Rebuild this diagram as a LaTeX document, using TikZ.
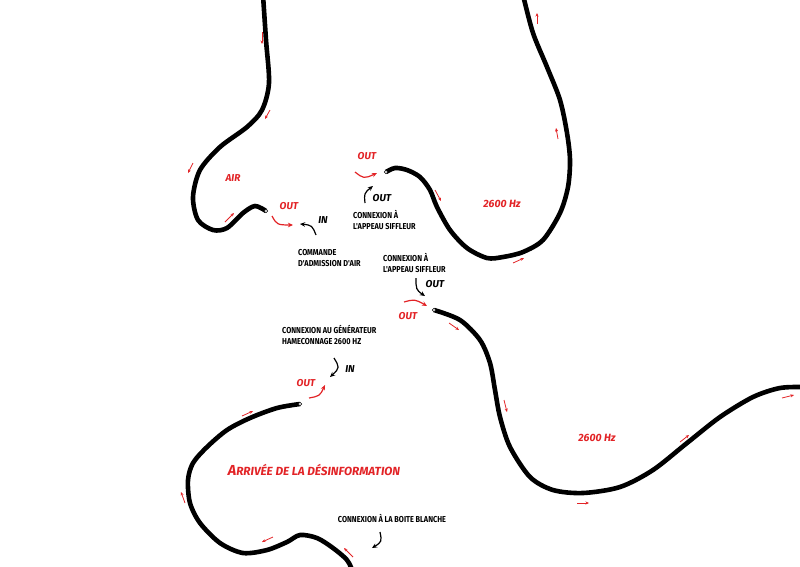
\documentclass[tikz,border=0pt]{standalone}
\usepackage{fontspec}
\setmainfont{Fira Sans}
\newfontfamily\plume[FakeStretch=0.85]{Fira Sans}
\usepackage{tikz}
\usetikzlibrary{arrows.meta,bending}
\usepackage{xcolor}
\definecolor{Alerte}{RGB}{226,35,38}

\begin{document}
\begin{tikzpicture}[x=1pt,y=-1pt,
  tuyau/.style={line width=4.6pt,line cap=butt},
  bouche/.style={fill=white,line width=0.6pt},
  fleche/.style={Alerte,line width=0.8pt,-{Stealth[length=3.5pt,width=3pt]}},
  courbe/.style={line width=1.2pt,-{Stealth[length=5pt,width=4.5pt,bend]}},
  etiquette/.style={font=\plume\bfseries\fontsize{8.6}{10.5}\selectfont,align=left,inner sep=0pt},
  rouge/.style={Alerte,font=\bfseries\itshape\fontsize{10}{11}\selectfont,inner sep=0pt}]
\useasboundingbox (0,0) rectangle (800,566);
%
% tuyau d'air
\draw[tuyau] plot[smooth] coordinates {(266,211) (255,206) (243,213) (227,228) (213,230) (198,220) (193,197) (200,170) (220,147) (247,127) (262,110) (269,83) (266,40) (263,-5)};
\draw[bouche] (266,211) circle (1.8);
\draw[fleche] (262,32) -- (262,44);
\draw[fleche] (270,110) -- (265,119);
\draw[fleche] (193,163) -- (188,173);
\draw[fleche] (225,222) -- (234,213);
\draw (233,178) node[rouge] (air) {AIR};
%
% tuyau 2600 Hz du haut
\draw[tuyau] plot[smooth] coordinates {(386,172) (395,168) (407,170) (420,177) (430,190) (437,207) (450,230) (467,248) (487,258) (503,257) (523,252) (543,240) (560,213) (568,187) (570,160) (567,133) (560,100) (547,67) (533,33) (523,-5)};
\draw[bouche] (386,172) circle (1.8);
\draw[fleche] (537,24) -- (537,13);
\draw[fleche] (558,139) -- (556,128);
\draw[fleche] (435,190) -- (441,201);
\draw[fleche] (513,263) -- (524,258);
\draw (502,204) node[rouge,font=\bfseries\itshape\fontsize{10.5}{11}\selectfont] (hzhaut) {2600 Hz};
%
% tuyau 2600 Hz du bas
\draw[tuyau] plot[smooth] coordinates {(434,310) (460,320) (480,340) (490,363) (495,390) (500,417) (510,447) (530,477) (553,490) (583,493) (620,487) (653,470) (687,443) (720,417) (753,397) (780,388) (805,387)};
\draw[bouche] (434,310) circle (1.8);
\draw[fleche] (449,323) -- (459,330);
\draw[fleche] (504,400) -- (507,412);
\draw[fleche] (577,503) -- (589,503);
\draw[fleche] (680,442) -- (689,435);
\draw[fleche] (782,398) -- (794,395);
\draw (597,438) node[rouge,font=\bfseries\itshape\fontsize{10.5}{11}\selectfont] (hzbas) {2600 Hz};
%
% tuyau de la desinformation
\draw[tuyau] plot[smooth] coordinates {(300,404) (277,408) (250,418) (227,430) (207,447) (193,463) (188,480) (190,503) (200,523) (220,543) (243,553) (267,550) (287,542) (300,535) (317,538) (333,548) (347,560) (353,572)};
\draw[bouche] (300,404) circle (1.8);
\draw[fleche] (242,416) -- (253,411);
\draw[fleche] (185,503) -- (181,492);
\draw[fleche] (273,537) -- (262,542);
\draw[fleche] (353,557) -- (344,548);
\draw (314,470) node[rouge,font=\bfseries\itshape\fontsize{11.8}{13}\selectfont] (arrivee) {{\fontsize{14.5}{15}\selectfont A}RRIVÉE DE LA DÉSINFORMATION};
%
% commande d'admission d'air
\draw (289,206) node[rouge] (outair) {OUT};
\draw[courbe,Alerte] (272,216) .. controls (277,225) .. (293,225);
\draw (323,220) node[rouge,text=black] (inair) {IN};
\draw[courbe] (316,235) .. controls (312,225) .. (300,224);
\draw (298,258) node[etiquette,anchor=west] (commande) {COMMANDE\\D'ADMISSION D'AIR};
%
% appeau siffleur, en haut
\draw (367,156) node[rouge] (outhaut) {OUT};
\draw[courbe,Alerte] (355,172) .. controls (364,179) .. (377,173);
\draw (382,198) node[rouge,text=black] (outappeau) {OUT};
\draw[courbe] (365,203) .. controls (364,193) .. (373,186);
\draw (353,220) node[etiquette,anchor=west] (appeauhaut) {CONNEXION À\\L'APPEAU SIFFLEUR};
%
% appeau siffleur, au milieu
\draw (383,263) node[etiquette,anchor=west] (appeaumilieu) {CONNEXION À\\L'APPEAU SIFFLEUR};
\draw (435,284) node[rouge,text=black] (outmilieu) {OUT};
\draw[courbe] (416,278) .. controls (416,290) .. (425,296);
\draw[courbe,Alerte] (404,302) .. controls (415,299) .. (427,306);
\draw (408,316) node[rouge] (outrouge) {OUT};
%
% generateur hameconnage
\draw (282,335) node[etiquette,anchor=west] (generateur) {CONNEXION AU GÉNÉRATEUR\\HAMECONNAGE 2600 HZ};
\draw[courbe] (334,358) .. controls (340,368) .. (330,377);
\draw (350,369) node[rouge,text=black] (ingen) {IN};
\draw (306,383) node[rouge] (outgen) {OUT};
\draw[courbe,Alerte] (309,398) .. controls (320,396) .. (325,385);
%
% boite blanche
\draw (392,518) node[etiquette] (boite) {CONNEXION À LA BOITE BLANCHE};
\draw[courbe] (380,532) .. controls (382,542) .. (372,548);
%
\end{tikzpicture}
\end{document}
